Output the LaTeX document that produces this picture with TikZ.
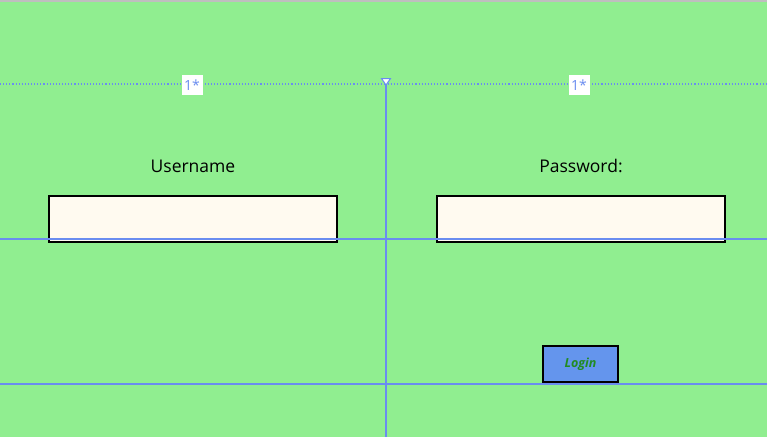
\documentclass[tikz,border=0pt]{standalone}
\usepackage{fontspec}
\setmainfont{Open Sans}
\definecolor{bg}{HTML}{90EE90}
\definecolor{guide}{HTML}{6A8CF0}
\definecolor{boxfill}{HTML}{FFFAF0}
\definecolor{btn}{HTML}{6495ED}
\definecolor{btntext}{HTML}{228B22}
\begin{document}
\begin{tikzpicture}[x=1pt,y=-1pt,
  guideline/.style={guide,line width=1.1pt},
  dotguide/.style={guide,line width=1.1pt,dotted},
  starlabel/.style={fill=white,text=guide,font=\fontsize{14}{15}\selectfont,inner sep=1pt,minimum width=21pt,minimum height=20pt},
  caption/.style={font=\fontsize{17.5}{20}\selectfont,text=black},
  inputbox/.style={draw=black,line width=2pt,fill=boxfill,minimum width=288pt,minimum height=46pt,inner sep=0pt},
  btnbox/.style={draw=black,line width=2pt,fill=btn,minimum width=75pt,minimum height=36pt,inner sep=0pt,font=\fontsize{12.5}{14}\selectfont\bfseries\itshape,text=btntext}]
\useasboundingbox (0,0) rectangle (767,437);
\fill[bg] (0,0) rectangle (767,437);
\fill[gray!50] (0,0) rectangle (767,1.5);
% guide lines
\coordinate (dl) at (0,84); \coordinate (dr) at (767,84);
\coordinate (h1l) at (0,239); \coordinate (h1r) at (767,239);
\coordinate (h2l) at (0,384); \coordinate (h2r) at (767,384);
\coordinate (vt) at (386,84); \coordinate (vb) at (386,437);
\draw[dotguide] (dl) -- (dr);
% input boxes
\node[inputbox] (userbox) at (193,219) {};
\node[inputbox] (passbox) at (581,219) {};
\node[btnbox] (login) at (580.5,364) {Login};
\draw[guideline] (h1l) -- (h1r);
\draw[guideline] (h2l) -- (h2r);
\draw[guideline] (vt) -- (vb);
\draw[guide,fill=white,line width=1pt] (381.5,78.5) -- (390.5,78.5) -- (386,85) -- cycle;
\node[starlabel] (s1) at (192,85) {1*};
\node[starlabel] (s2) at (579,85) {1*};
\node[caption] (ulabel) at (193,166) {Username};
\node[caption] (plabel) at (581,166) {Password:};
\end{tikzpicture}
\end{document}
